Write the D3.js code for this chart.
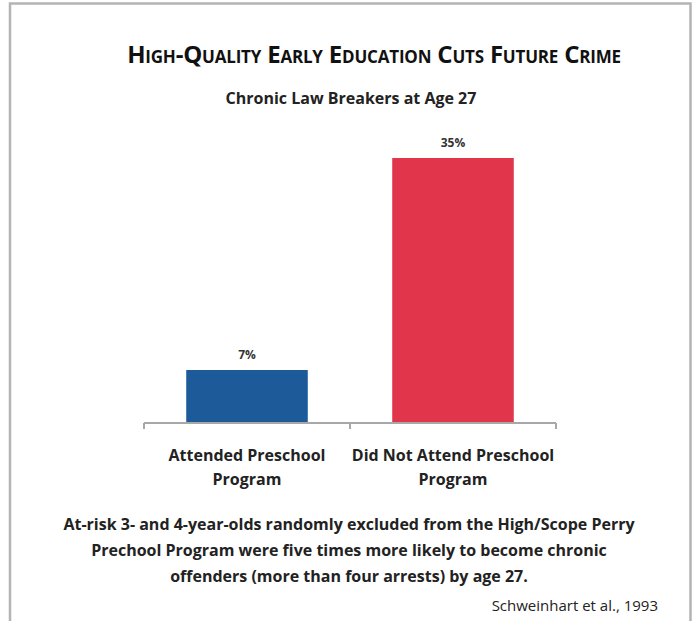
<!DOCTYPE html>
<html>
<head>
<meta charset="utf-8">
<script src="https://cdn.jsdelivr.net/npm/d3@7"></script>
<style>
  body { margin: 0; background: #fff; }
  svg { display: block; font-family: "Open Sans", sans-serif; }
</style>
</head>
<body>
<svg></svg>
<script>
var categories = [["Attended Preschool", "Program"], ["Did Not Attend Preschool", "Program"]];
var values = [7, 35];
var colors = ["#1d5a9a", "#e0354a"];
var title = "High-Quality Early Education Cuts Future Crime";
var subtitle = "Chronic Law Breakers at Age 27";
var caption = [
  "At-risk 3- and 4-year-olds randomly excluded from the High/Scope Perry",
  "Prechool Program were five times more likely to become chronic",
  "offenders (more than four arrests) by age 27."
];
var source = "Schweinhart et al., 1993";

var W = 697, H = 621;
var svg = d3.select("svg").attr("width", W).attr("height", H);

// frame, open at the bottom
svg.append("path")
  .attr("d", "M10,621 V3.5 H690.5 V621")
  .style("fill", "none")
  .style("stroke", "#b4b4b4")
  .style("stroke-width", 2.5);

var x = d3.scaleBand().domain(d3.range(values.length)).range([144, 556])
  .paddingInner(0.41).paddingOuter(0.205);
var y = d3.scaleLinear().domain([0, 35]).range([423, 158]);

svg.selectAll("rect.bar").data(values).enter().append("rect")
  .attr("class", "bar")
  .attr("x", function(d, i) { return x(i); })
  .attr("width", x.bandwidth())
  .attr("y", function(d) { return y(d); })
  .attr("height", function(d) { return y(0) - y(d); })
  .style("fill", function(d, i) { return colors[i]; });

svg.selectAll("text.val").data(values).enter().append("text")
  .attr("class", "val")
  .attr("x", function(d, i) { return x(i) + x.bandwidth() / 2; })
  .attr("y", function(d) { return y(d) - 11; })
  .attr("text-anchor", "middle")
  .style("font-size", "12px").style("font-weight", "bold").style("fill", "#333")
  .text(function(d) { return d + "%"; });

// axis baseline with ticks at band edges
var ax = svg.append("g").style("stroke", "#a8a8a8").style("stroke-width", 2);
ax.append("line").attr("x1", 144).attr("x2", 556).attr("y1", 423).attr("y2", 423);
[144, x(1) - x.step() * x.paddingInner() / 2, 556].forEach(function(t) {
  ax.append("line").attr("x1", t).attr("x2", t).attr("y1", 423).attr("y2", 429);
});

svg.selectAll("text.cat").data(categories).enter().append("text")
  .attr("class", "cat")
  .attr("text-anchor", "middle")
  .style("font-size", "16px").style("font-weight", "bold").style("fill", "#222")
  .each(function(d, i) {
    var t = d3.select(this);
    d.forEach(function(line, k) {
      t.append("tspan").attr("x", x(i) + x.bandwidth() / 2)
        .attr("y", 461 + k * 24).text(line);
    });
  });

svg.append("text")
  .attr("x", 374).attr("y", 63)
  .attr("text-anchor", "middle")
  .style("font-size", "24px").style("font-weight", "bold").style("font-variant", "small-caps")
  .style("letter-spacing", "-0.2px")
  .style("fill", "#111")
  .text(title);

svg.append("text")
  .attr("x", 351).attr("y", 104)
  .attr("text-anchor", "middle")
  .style("font-size", "16px").style("font-weight", "bold").style("fill", "#222")
  .text(subtitle);

svg.selectAll("text.cap").data(caption).enter().append("text")
  .attr("class", "cap")
  .attr("x", 349).attr("y", function(d, i) { return 530 + i * 26; })
  .attr("text-anchor", "middle")
  .style("font-size", "16px").style("font-weight", "bold").style("fill", "#222")
  .text(function(d) { return d; });

svg.append("text")
  .attr("x", 658).attr("y", 611)
  .attr("text-anchor", "end")
  .style("font-size", "15px").style("fill", "#222")
  .text(source);
</script>
</body>
</html>
